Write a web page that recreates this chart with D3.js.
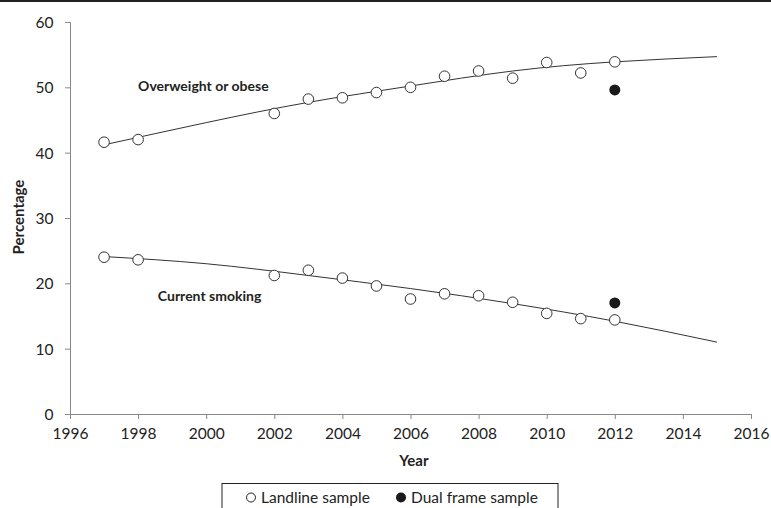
<!DOCTYPE html>
<html>
<head>
<meta charset="utf-8">
<script src="https://cdn.jsdelivr.net/npm/d3@7"></script>
<style>
  body { margin: 0; background: #fff; }
  svg { display: block; font-family: Lato, "Open Sans", sans-serif; }
</style>
</head>
<body>
<div id="chart"></div>
<script>
// landline sample, by survey year
const years = [1997, 1998, 2002, 2003, 2004, 2005, 2006, 2007, 2008, 2009, 2010, 2011, 2012];
const overweight = [41.6, 42.0, 46.0, 48.2, 48.4, 49.2, 50.0, 51.7, 52.5, 51.4, 53.8, 52.2, 53.9];
const smoking = [24.0, 23.6, 21.2, 22.0, 20.8, 19.6, 17.6, 18.4, 18.1, 17.1, 15.4, 14.6, 14.4];

// dual frame sample (2012 only)
const dualYears = [2012];
const dualOverweight = [49.6];
const dualSmoking = [17.0];

// trend lines
const trendYears = [1997, 2000, 2003, 2006, 2009, 2012, 2015];
const overweightTrend = [41.2, 44.6, 47.7, 50.2, 52.5, 53.9, 54.7];
const smokingTrend = [24.1, 23.0, 21.2, 19.2, 16.9, 14.2, 11.0];

const xTicks = [1996, 1998, 2000, 2002, 2004, 2006, 2008, 2010, 2012, 2014, 2016];
const yTicks = [0, 10, 20, 30, 40, 50, 60];

const width = 771, height = 508;
const margin = {top: 22, right: 20, bottom: 94, left: 70};

const svg = d3.select('#chart').append('svg')
    .attr('width', width)
    .attr('height', height);

// dark rule along the top edge
svg.append('rect')
    .attr('x', 0).attr('y', 0)
    .attr('width', width).attr('height', 2)
    .attr('fill', '#222');

const x = d3.scaleLinear().domain([1996, 2016]).range([margin.left, width - margin.right]);
const y = d3.scaleLinear().domain([0, 60]).range([height - margin.bottom, margin.top]);

const axisColor = '#888';

const xAxis = svg.append('g')
    .attr('transform', `translate(0,${y(0)})`)
    .call(d3.axisBottom(x).tickValues(xTicks).tickFormat(d3.format('d')).tickSize(5).tickSizeOuter(5));
const yAxis = svg.append('g')
    .attr('transform', `translate(${x(1996)},0)`)
    .call(d3.axisLeft(y).tickValues(yTicks).tickSize(5).tickSizeOuter(5));

[xAxis, yAxis].forEach(a => {
  a.selectAll('path, line').attr('stroke', axisColor);
  a.selectAll('text')
      .attr('fill', '#222')
      .style('font-family', 'Lato, sans-serif')
      .style('font-size', '15.5px');
});
xAxis.selectAll('text').attr('dy', '1.1em');
yAxis.selectAll('text').attr('x', -16.5).attr('dy', '0.35em');

// axis titles
svg.append('text')
    .attr('x', x(2006.1))
    .attr('y', 466)
    .attr('text-anchor', 'middle')
    .style('font-weight', 'bold')
    .style('font-size', '15px')
    .attr('fill', '#222')
    .text('Year');

svg.append('text')
    .attr('transform', `translate(24,217) rotate(-90)`)
    .attr('text-anchor', 'middle')
    .style('font-weight', 'bold')
    .style('font-size', '15px')
    .attr('fill', '#222')
    .text('Percentage');

// trend lines
const line = d3.line()
    .x(d => x(d[0]))
    .y(d => y(d[1]))
    .curve(d3.curveNatural);

[overweightTrend, smokingTrend].forEach(t => {
  svg.append('path')
      .datum(trendYears.map((yr, i) => [yr, t[i]]))
      .attr('d', line)
      .attr('fill', 'none')
      .attr('stroke', '#333')
      .attr('stroke-width', 1);
});

// landline points
[overweight, smoking].forEach(s => {
  svg.append('g').selectAll('circle')
      .data(years.map((yr, i) => [yr, s[i]]))
      .join('circle')
      .attr('cx', d => x(d[0]))
      .attr('cy', d => y(d[1]))
      .attr('r', 5.3)
      .attr('fill', '#fff')
      .attr('stroke', '#333')
      .attr('stroke-width', 1);
});

// dual frame points
[dualOverweight, dualSmoking].forEach(s => {
  svg.append('g').selectAll('circle')
      .data(dualYears.map((yr, i) => [yr, s[i]]))
      .join('circle')
      .attr('cx', d => x(d[0]))
      .attr('cy', d => y(d[1]))
      .attr('r', 5.5)
      .attr('fill', '#1a1a1a');
});

// series labels
svg.append('text')
    .attr('x', x(1998))
    .attr('y', y(49.4))
    .style('font-weight', 'bold')
    .style('font-size', '14px')
    .attr('fill', '#222')
    .text('Overweight or obese');

svg.append('text')
    .attr('x', x(1998.58))
    .attr('y', y(17.3))
    .style('font-weight', 'bold')
    .style('font-size', '14px')
    .attr('fill', '#222')
    .text('Current smoking');

// legend
const legend = svg.append('g');
legend.append('rect')
    .attr('x', 222).attr('y', 483.5)
    .attr('width', 336).attr('height', 30)
    .attr('fill', '#fff')
    .attr('stroke', '#222')
    .attr('stroke-width', 1);

legend.append('circle')
    .attr('cx', 251).attr('cy', 497.5).attr('r', 4.5)
    .attr('fill', '#fff').attr('stroke', '#222');
legend.append('text')
    .attr('x', 261).attr('y', 503)
    .style('font-size', '15.5px')
    .attr('fill', '#222')
    .text('Landline sample');

legend.append('circle')
    .attr('cx', 401).attr('cy', 497.5).attr('r', 5)
    .attr('fill', '#1a1a1a');
legend.append('text')
    .attr('x', 411).attr('y', 503)
    .style('font-size', '15.5px')
    .attr('fill', '#222')
    .text('Dual frame sample');
</script>
</body>
</html>
